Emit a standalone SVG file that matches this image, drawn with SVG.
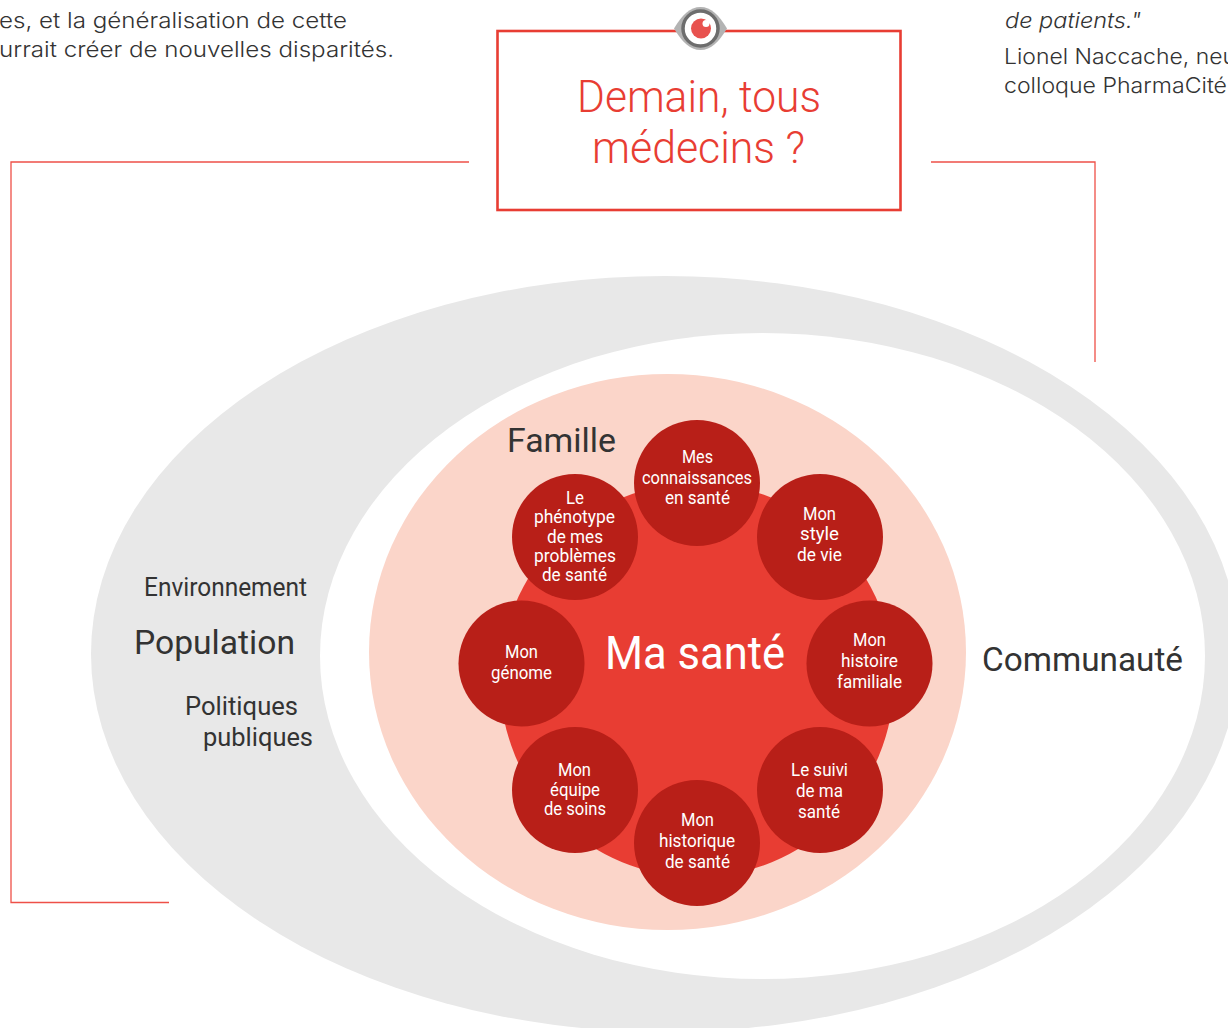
<svg xmlns="http://www.w3.org/2000/svg" width="1228" height="1028" viewBox="0 0 1228 1028">
<style>
text{font-family:Roboto,"Noto Sans",sans-serif;}
.s{font-size:17.5px;fill:#fff;}
.d{fill:#333;}
.c{fill:#b81f18;}
.b{font-family:Inter,"Liberation Sans",sans-serif;font-size:22px;font-weight:300;fill:#333;}
.t{font-size:45px;fill:#e83d33;font-weight:300;}
.conn{fill:none;stroke:#ee5048;stroke-width:1.3;}
</style>
<rect width="1228" height="1028" fill="#fff"/>
<g id="background-texts">
<text class="b" x="-1" y="28" textLength="348" lengthAdjust="spacingAndGlyphs">es, et la généralisation de cette</text>
<text class="b" x="-1" y="57" textLength="395" lengthAdjust="spacingAndGlyphs">urrait créer de nouvelles disparités.</text>
<text class="b" x="1005" y="28" font-style="italic" textLength="136" lengthAdjust="spacingAndGlyphs">de patients."</text>
<text class="b" x="1004" y="64" textLength="232" lengthAdjust="spacingAndGlyphs">Lionel Naccache, neu</text>
<text class="b" x="1004" y="93" textLength="223" lengthAdjust="spacingAndGlyphs">colloque PharmaCité</text>
</g>
<g id="connectors">
<polyline class="conn" points="469,162 11,162 11,902.500 169,902.500"/>
<polyline class="conn" points="931,162 1095,162 1095,362"/>
</g>
<g id="title">
<rect x="497.500" y="31" width="403" height="179" fill="#fff" stroke="#e83d33" stroke-width="2.6"/>
<path d="M674,28.500 C682,15 690,7 700.500,7 C711,7 719,15 727,28.500 C719,42 711,50 700.500,50 C690,50 682,42 674,28.500Z" fill="#b3b3b3"/>
<circle cx="700.500" cy="28.500" r="17.500" fill="#fff" stroke="#6d6d6d" stroke-width="3.500"/>
<circle cx="701" cy="28.500" r="10" fill="#e8524f"/>
<circle cx="706" cy="23.500" r="3.500" fill="#fff"/>
<text class="t" x="577" y="112" textLength="244" lengthAdjust="spacingAndGlyphs">Demain, tous</text>
<text class="t" x="592" y="163" textLength="213" lengthAdjust="spacingAndGlyphs">médecins ?</text>
</g>
<g id="population">
<ellipse cx="665" cy="654" rx="574" ry="378" fill="#e8e8e8"/>
<text class="d" x="144" y="596" font-size="25" textLength="163" lengthAdjust="spacingAndGlyphs">Environnement</text>
<text class="d" x="134" y="654" font-size="34" textLength="161" lengthAdjust="spacingAndGlyphs">Population</text>
<text class="d" x="185" y="715" font-size="26" textLength="113" lengthAdjust="spacingAndGlyphs">Politiques</text>
<text class="d" x="203" y="746" font-size="26" textLength="110" lengthAdjust="spacingAndGlyphs">publiques</text>
</g>
<g id="communaute">
<ellipse cx="762.500" cy="656" rx="442.500" ry="323" fill="#fff"/>
<text class="d" x="982" y="671" font-size="34" textLength="201" lengthAdjust="spacingAndGlyphs">Communauté</text>
</g>
<g id="famille">
<ellipse cx="667.500" cy="652" rx="298.500" ry="278" fill="#fbd5c9"/>
<text class="d" x="507" y="452" font-size="34" textLength="109" lengthAdjust="spacingAndGlyphs">Famille</text>
</g>
<g id="ma-sante">
<circle cx="697" cy="680" r="197" fill="#e83d33"/>
<text x="605" y="669" font-size="46" fill="#fff" textLength="180" lengthAdjust="spacingAndGlyphs">Ma santé</text>
</g>
<g id="n-connaissances">
<circle class="c" cx="697" cy="483" r="63"/>
<text class="s" x="682" y="463" textLength="31" lengthAdjust="spacingAndGlyphs">Mes</text>
<text class="s" x="642" y="484" textLength="110" lengthAdjust="spacingAndGlyphs">connaissances</text>
<text class="s" x="665" y="504" textLength="65" lengthAdjust="spacingAndGlyphs">en santé</text>
</g>
<g id="n-style">
<circle class="c" cx="820" cy="537" r="63"/>
<text class="s" x="803" y="520" textLength="33" lengthAdjust="spacingAndGlyphs">Mon</text>
<text class="s" x="800" y="540" textLength="39" lengthAdjust="spacingAndGlyphs">style</text>
<text class="s" x="797" y="561" textLength="45" lengthAdjust="spacingAndGlyphs">de vie</text>
</g>
<g id="n-histoire">
<circle class="c" cx="869.500" cy="663.500" r="63"/>
<text class="s" x="853" y="646" textLength="33" lengthAdjust="spacingAndGlyphs">Mon</text>
<text class="s" x="841" y="667" textLength="57" lengthAdjust="spacingAndGlyphs">histoire</text>
<text class="s" x="837" y="688" textLength="65" lengthAdjust="spacingAndGlyphs">familiale</text>
</g>
<g id="n-suivi">
<circle class="c" cx="820" cy="790" r="63"/>
<text class="s" x="791" y="776" textLength="57" lengthAdjust="spacingAndGlyphs">Le suivi</text>
<text class="s" x="796" y="797" textLength="47" lengthAdjust="spacingAndGlyphs">de ma</text>
<text class="s" x="798" y="818" textLength="42" lengthAdjust="spacingAndGlyphs">santé</text>
</g>
<g id="n-historique">
<circle class="c" cx="697" cy="843" r="63"/>
<text class="s" x="681" y="826" textLength="33" lengthAdjust="spacingAndGlyphs">Mon</text>
<text class="s" x="659" y="847" textLength="76" lengthAdjust="spacingAndGlyphs">historique</text>
<text class="s" x="665" y="868" textLength="65" lengthAdjust="spacingAndGlyphs">de santé</text>
</g>
<g id="n-equipe">
<circle class="c" cx="575" cy="790" r="63"/>
<text class="s" x="558" y="776" textLength="33" lengthAdjust="spacingAndGlyphs">Mon</text>
<text class="s" x="550" y="796" textLength="50" lengthAdjust="spacingAndGlyphs">équipe</text>
<text class="s" x="544" y="815" textLength="62" lengthAdjust="spacingAndGlyphs">de soins</text>
</g>
<g id="n-genome">
<circle class="c" cx="521.500" cy="663.500" r="63"/>
<text class="s" x="505" y="658" textLength="33" lengthAdjust="spacingAndGlyphs">Mon</text>
<text class="s" x="491" y="679" textLength="61" lengthAdjust="spacingAndGlyphs">génome</text>
</g>
<g id="n-phenotype">
<circle class="c" cx="575" cy="537" r="63"/>
<text class="s" x="566" y="504" textLength="18" lengthAdjust="spacingAndGlyphs">Le</text>
<text class="s" x="534" y="523" textLength="81" lengthAdjust="spacingAndGlyphs">phénotype</text>
<text class="s" x="547" y="543" textLength="56" lengthAdjust="spacingAndGlyphs">de mes</text>
<text class="s" x="534" y="562" textLength="82" lengthAdjust="spacingAndGlyphs">problèmes</text>
<text class="s" x="542" y="581" textLength="65" lengthAdjust="spacingAndGlyphs">de santé</text>
</g>
</svg>
